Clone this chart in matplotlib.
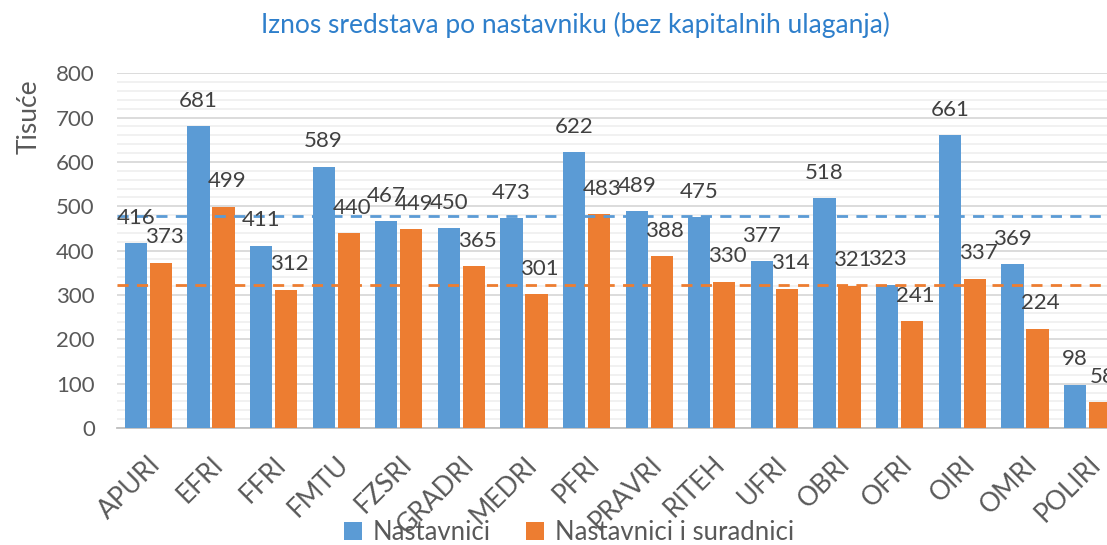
import numpy as np
import matplotlib.pyplot as plt

plt.rcParams['font.family'] = ['Lato', 'DejaVu Sans']

fakulteti = ["APURI", "EFRI", "FFRI", "FMTU", "FZSRI", "GRADRI", "MEDRI", "PFRI",
             "PRAVRI", "RITEH", "UFRI", "OBRI", "OFRI", "OIRI", "OMRI", "POLIRI"]
nastavnici = [416, 681, 411, 589, 467, 450, 473, 622, 489, 475, 377, 518, 323, 661, 369, 98]
suradnici = [373, 499, 312, 440, 449, 365, 301, 483, 388, 330, 314, 321, 241, 337, 224, 58]
prosjek_nast = 478
prosjek_sur = 323

plava = '#5B9BD5'
narancasta = '#ED7D31'
siva_tekst = '#404040'

fig = plt.figure(figsize=(11.07, 5.45), dpi=100)
ax = fig.add_axes([0.1057, 0.2147, 0.905, 0.651])

x = np.arange(len(fakulteti))
w = 0.355
b1 = ax.bar(x - 0.2, nastavnici, w, color=plava, label='Nastavnici', zorder=3)
b2 = ax.bar(x + 0.2, suradnici, w, color=narancasta, label='Nastavnici i suradnici', zorder=3)

for rect, v in zip(b1, nastavnici):
    ax.annotate(str(v), (rect.get_x() + rect.get_width() / 2, v), xytext=(0, 11),
                textcoords='offset points', ha='center', va='bottom',
                fontsize=16, color=siva_tekst, zorder=5)
for rect, v in zip(b2, suradnici):
    ax.annotate(str(v), (rect.get_x() + rect.get_width() / 2 + 0.05, v), xytext=(0, 11),
                textcoords='offset points', ha='center', va='bottom',
                fontsize=16, color=siva_tekst, zorder=5)

ax.axhline(prosjek_nast, color=plava, ls=(0, (4, 3)), lw=2, zorder=4)
ax.axhline(prosjek_sur, color=narancasta, ls=(0, (4, 3)), lw=2, zorder=4)

ax.set_xlim(-0.5, len(fakulteti) - 0.5)
ax.set_ylim(0, 800)
ax.set_yticks(range(0, 801, 100))
ax.set_yticks(range(0, 801, 20), minor=True)
ax.grid(which='major', axis='y', color='#D9D9D9', lw=1.3, zorder=0)
ax.grid(which='minor', axis='y', color='#F0F0F0', lw=1.3, zorder=0)
ax.tick_params(axis='y', which='both', length=0, labelsize=16, labelcolor='#595959', pad=16)
ax.set_xticks(x)
ax.set_xticklabels(fakulteti, rotation=45, ha='right', rotation_mode='anchor',
                   fontsize=19, color='#595959')
ax.tick_params(axis='x', length=0, pad=17)
for s in ['top', 'right', 'left']:
    ax.spines[s].set_visible(False)
ax.spines['bottom'].set_color('#BFBFBF')
ax.spines['bottom'].set_linewidth(1.3)

fig.text(0.52, 0.955, 'Iznos sredstava po nastavniku (bez kapitalnih ulaganja)',
         ha='center', va='center', fontsize=19, color='#2E7FCB')
fig.text(0.026, 0.785, 'Tisuće', rotation=90, ha='center', va='center',
         fontsize=19, color='#595959')

fig.legend(handles=[b1, b2], loc='lower center', bbox_to_anchor=(0.514, -0.042),
           ncol=2, frameon=False, fontsize=18.5, labelcolor='#595959',
           handlelength=0.7, handleheight=0.7, columnspacing=1.4, handletextpad=0.4)

fig.savefig('out.png', dpi=100)
